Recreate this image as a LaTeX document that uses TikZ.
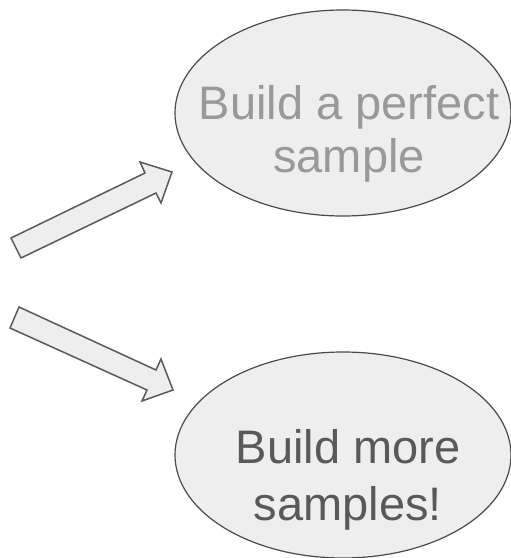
\documentclass[tikz,border=0pt]{standalone}
\usepackage{fontspec}
\setmainfont{Liberation Sans}
\usetikzlibrary{shapes.geometric}
\definecolor{edgegray}{HTML}{595959}
\definecolor{ringgray}{HTML}{4A4A4A}
\definecolor{fillgray}{HTML}{EEEEEE}
\definecolor{lighttext}{HTML}{999999}
\definecolor{darktext}{HTML}{595959}
\tikzset{
  blob/.style={ellipse, draw=ringgray, fill=fillgray, line width=1.2pt, inner sep=0pt,
    minimum width=336pt, minimum height=206pt},
  blockarrow/.style={draw=edgegray, fill=fillgray, line width=1.5pt, line join=miter},
  linetext/.style={anchor=base, inner sep=0pt, font=\fontsize{47pt}{53pt}\selectfont},
}
\begin{document}
\begin{tikzpicture}[x=1pt,y=-1pt]
\useasboundingbox (0,0) rectangle (511,558);
\clip (0,0) rectangle (511,558);
% ellipses
\node[blob] (perfect) at (343,113) {};
\node[blob] (more) at (343,455) {};
% texts
\node[linetext, text=lighttext] (perfectA) at (349,119) {Build a perfect};
\node[linetext, text=lighttext] (perfectB) at (349,172) {sample};
\node[linetext, text=darktext] (moreA) at (348,463) {Build more};
\node[linetext, text=darktext] (moreB) at (348,520) {samples!};
% block arrows
\draw[blockarrow] (11,238) -- (145,173) -- (140,162) -- (172,172) -- (161,203) -- (156,193) -- (21,258) -- cycle;
\draw[blockarrow] (19,307) -- (156,370) -- (161,359) -- (173,390) -- (142,401) -- (147,390) -- (10,328) -- cycle;
\end{tikzpicture}
\end{document}
